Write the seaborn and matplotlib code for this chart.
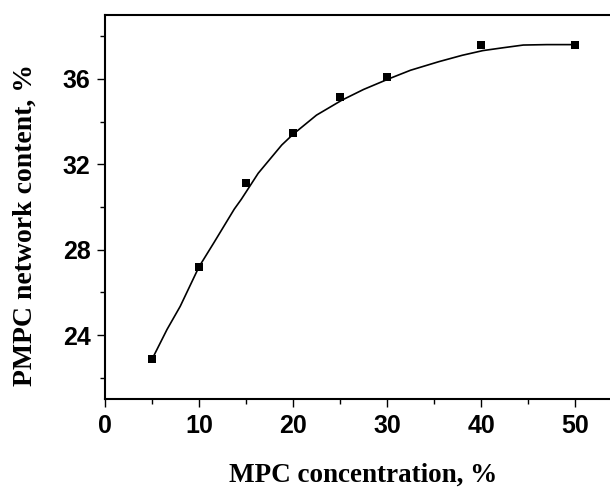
import numpy as np
import pandas as pd
import seaborn as sns
import matplotlib
matplotlib.use('Agg')
import matplotlib.pyplot as plt
from matplotlib.ticker import MultipleLocator

# measured points
mpc_conc = [5, 10, 15, 20, 25, 30, 40, 50]
pmpc_content = [22.87, 27.18, 31.1, 33.46, 35.14, 36.1, 37.6, 37.6]

# fitted curve
curve_x = [5, 6.6, 8, 10, 11.6, 13.75, 14.5, 16.3, 18.8, 20, 22.5, 25.2,
           27.5, 30.2, 32.5, 35.5, 38, 40.2, 42.3, 44.5, 47, 50]
curve_y = [22.87, 24.27, 25.35, 27.2, 28.34, 29.9, 30.36, 31.58, 32.9, 33.4,
           34.3, 35.0, 35.5, 36.0, 36.4, 36.8, 37.1, 37.32, 37.45, 37.58,
           37.6, 37.6]

x_ticks = [0, 10, 20, 30, 40, 50]
y_ticks = [24, 28, 32, 36]

sns.set_style('ticks')
plt.rcParams['font.family'] = ['Liberation Serif', 'DejaVu Serif']

pts = pd.DataFrame({'x': mpc_conc, 'y': pmpc_content})
fit = pd.DataFrame({'x': curve_x, 'y': curve_y})

W, H = 610, 487
left, right, top, bottom = 105, 610, 14.7, 399.3
fig = plt.figure(figsize=(W / 100, H / 100), dpi=100)
ax = fig.add_axes([left / W, 1 - bottom / H, (right - left) / W,
                   (bottom - top) / H])

sns.lineplot(data=fit, x='x', y='y', color='black', linewidth=1.2, ax=ax,
             sort=False)
sns.scatterplot(data=pts, x='x', y='y', marker='s', s=28, color='black',
                edgecolor='black', linewidth=0, ax=ax, zorder=3)

ax.set_xlim(0, (right - left) / 9.4)
ax.set_ylim(21, 39)
ax.set_xticks(x_ticks)
ax.set_yticks(y_ticks)
ax.xaxis.set_minor_locator(MultipleLocator(5))
ax.yaxis.set_minor_locator(MultipleLocator(2))
ax.tick_params(which='major', direction='out', length=6, width=1,
               color='black', pad=4.5, labelcolor='black')
ax.tick_params(which='minor', direction='out', length=3.6, width=1,
               color='black')
for lab in ax.get_xticklabels() + ax.get_yticklabels():
    lab.set_family(['Liberation Sans', 'DejaVu Sans'])
    lab.set_fontweight('bold')
    lab.set_fontsize(18)

aw, ah = right - left, bottom - top
ax.set_xlabel('MPC concentration, %', fontsize=19.5, fontweight='bold',
              color='black', va='baseline')
ax.xaxis.set_label_coords((363 - left) / aw, (bottom - 482) / ah)
ax.set_ylabel('PMPC network content, %', fontsize=20, fontweight='bold',
              color='black')
ax.yaxis.set_label_coords((38 - left) / aw, (bottom - 225) / ah)

ax.spines['right'].set_visible(False)
for s in ['left', 'bottom', 'top']:
    ax.spines[s].set_linewidth(1.5)
    ax.spines[s].set_color('black')

fig.savefig('out.png', dpi=100)
